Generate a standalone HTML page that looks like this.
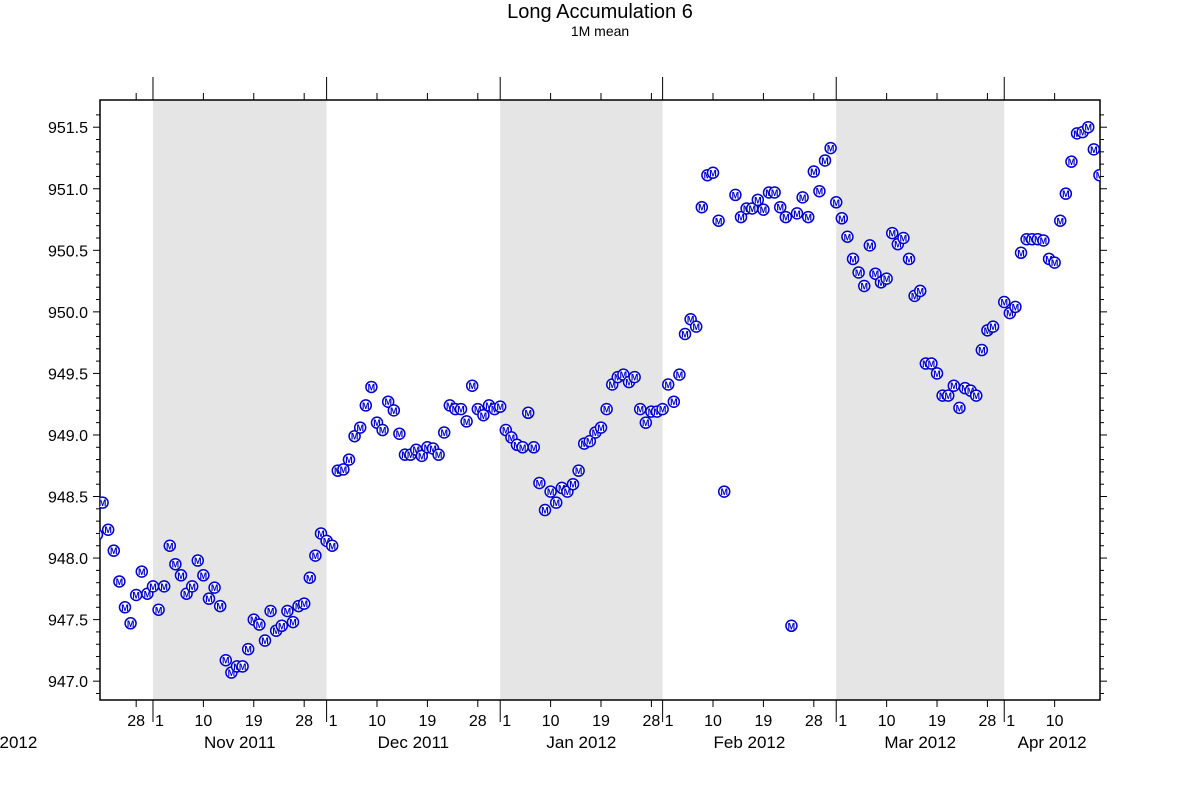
<!DOCTYPE html>
<html><head><meta charset="utf-8"><style>
body{margin:0;background:#fff;font-family:"Liberation Sans",sans-serif}
</style></head><body>
<svg id="chart" width="1200" height="800" xmlns="http://www.w3.org/2000/svg">
<text x="600" y="18" text-anchor="middle" font-size="20">Long Accumulation 6</text>
<text x="600" y="36" text-anchor="middle" font-size="14">1M mean</text>
<g id="bands"></g><g id="axes"></g><g id="points"></g>
</svg>
<script>
const days = [-10,-9,-8,-7,-6,-5,-4,-3,-2,-1,0,1,2,3,4,5,6,7,8,9,10,11,12,13,14,15,16,17,18,19,20,21,22,23,24,25,26,27,28,29,30,31,32,
33,34,35,36,37,38,39,40,41,42,43,44,45,46,47,48,49,50,51,52,53,54,55,56,57,58,59,60,61,62,
63,64,65,66,67,68,69,70,71,72,73,74,75,76,77,78,79,80,81,82,83,84,85,86,87,88,89,90,
91,92,93,94,95,96,97,98,99,100,101,102,104,105,106,107,108,109,110,111,112,113,114,115,116,117,118,119,120,121,
122,123,124,125,126,127,128,129,130,131,132,133,134,135,136,137,138,139,140,141,142,143,144,145,146,147,148,149,150,
152,153,154,155,156,157,158,159,160,161,162,163,164,165,166,167,168,169];
const values = [948.19,948.45,948.23,948.06,947.81,947.60,947.47,947.70,947.89,947.71,947.77,947.58,947.77,948.10,947.95,947.86,947.71,947.77,947.98,947.86,947.67,947.76,947.61,947.17,947.07,947.12,947.12,947.26,947.50,947.46,947.33,947.57,947.41,947.45,947.57,947.48,947.61,947.63,947.84,948.02,948.20,948.14,948.10,
948.71,948.72,948.80,948.99,949.06,949.24,949.39,949.10,949.04,949.27,949.20,949.01,948.84,948.84,948.88,948.83,948.90,948.89,948.84,949.02,949.24,949.21,949.21,949.11,949.40,949.21,949.16,949.24,949.21,949.23,
949.04,948.98,948.92,948.90,949.18,948.90,948.61,948.39,948.54,948.45,948.57,948.54,948.60,948.71,948.93,948.95,949.02,949.06,949.21,949.41,949.47,949.49,949.43,949.47,949.21,949.10,949.19,949.19,
949.21,949.41,949.27,949.49,949.82,949.94,949.88,950.85,951.11,951.13,950.74,948.54,950.95,950.77,950.84,950.84,950.91,950.83,950.97,950.97,950.85,950.77,947.45,950.80,950.93,950.77,951.14,950.98,951.23,951.33,
950.89,950.76,950.61,950.43,950.32,950.21,950.54,950.31,950.24,950.27,950.64,950.55,950.60,950.43,950.13,950.17,949.58,949.58,949.50,949.32,949.32,949.40,949.22,949.38,949.36,949.32,949.69,949.85,949.88,
950.08,949.99,950.04,950.48,950.59,950.59,950.59,950.58,950.43,950.40,950.74,950.96,951.22,951.45,951.46,951.50,951.32,951.11];
const yTicks = [947.0,947.5,948.0,948.5,949.0,949.5,950.0,950.5,951.0,951.5];
const monthStarts = [-30,0,31,62,91,122,152,183];
const monthNames = ["Nov 2011","Dec 2011","Jan 2012","Feb 2012","Mar 2012","Apr 2012","May 2012"];
const shaded = [1,3,5];

const L=100,R=1100,T=100,B=700, dMin=-9.46, dMax=169.1, vMin=946.847, vMax=951.721;
const x=d=>L+(d-dMin)/(dMax-dMin)*(R-L);
const y=v=>B-(v-vMin)/(vMax-vMin)*(B-T);
const NS="http://www.w3.org/2000/svg";
function mk(tag,attrs,parent,txt){const e=document.createElementNS(NS,tag);for(const k in attrs)e.setAttribute(k,attrs[k]);if(txt!==undefined)e.textContent=txt;parent.appendChild(e);return e;}
const bands=document.getElementById('bands'),axes=document.getElementById('axes'),pts=document.getElementById('points');
shaded.forEach(i=>{
  const x0=Math.max(L,x(monthStarts[i])),x1=Math.min(R,x(monthStarts[i+1]));
  const r=mk('rect',{x:x0,y:T,width:x1-x0,height:B-T,fill:'#e5e5e5'},bands);
  
  
});
const frame=mk('rect',{x:L,y:T,width:R-L,height:B-T,fill:'none',stroke:'#000','stroke-width':1.5},axes);


// y ticks
for(let v=946.9;v<=951.7;v+=0.1){
  const yy=y(v);if(yy<T||yy>B)continue;
  const major=Math.abs(Math.round(v*2)/2-v)<0.01;
  const len=major?7:4;
  mk('line',{x1:L-len,x2:L,y1:yy,y2:yy,stroke:'#000'},axes);
  mk('line',{x1:R,x2:R+len,y1:yy,y2:yy,stroke:'#000'},axes);
}
yTicks.forEach(v=>{
  const t=mk('text',{x:L-12,y:y(v)+6,'text-anchor':'end','font-size':16},axes,v.toFixed(1));
  
  
});
// x ticks
monthStarts.forEach((m,i)=>{
  [0,9,18,27].forEach(off=>{
    const d=m+off;if(i+1<monthStarts.length&&d>=monthStarts[i+1])return;
    const xx=x(d);if(xx<L||xx>R)return;
    const major=off===0;
    mk('line',{x1:xx,x2:xx,y1:B,y2:B+(major?22:7),stroke:'#000'},axes);
    mk('line',{x1:xx,x2:xx,y1:T-(major?23:7),y2:T,stroke:'#000'},axes);
    const t=mk('text',{x:xx+(major?2:0),y:B+26,'text-anchor':major?'start':'middle','font-size':16},axes,String(off+1));
    
    
  });
});
monthNames.forEach((n,i)=>{
  const a=Math.max(dMin,monthStarts[i+1]),b=Math.min(dMax,monthStarts[i+2]);
  const t=mk('text',{x:x((a+b)/2),y:B+48,'text-anchor':'middle','font-size':17},axes,n);
  
  
});
// points
const clip=mk('clipPath',{id:'pc'},document.getElementById('chart'));
mk('rect',{x:L,y:T,width:R-L,height:B-T},clip);
pts.setAttribute('clip-path','url(#pc)');
days.forEach((d,i)=>{
  const g=mk('g',{},pts);
  
  
  const cx=x(d),cy=y(values[i]);
  mk('circle',{cx:cx,cy:cy,r:5.5,fill:'#fff',stroke:'#0000cc','stroke-width':1.5},g);
  mk('text',{x:cx,y:cy+3.5,'text-anchor':'middle','font-size':9,'font-weight':'bold',fill:'#0000cc'},g,'M');
});
</script>
</body></html>
